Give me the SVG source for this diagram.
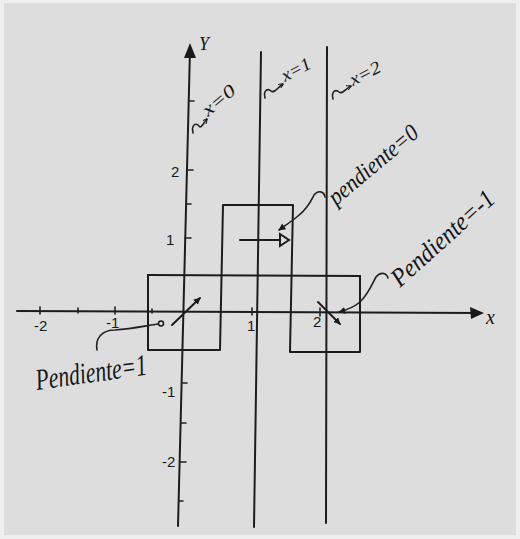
<svg xmlns="http://www.w3.org/2000/svg" width="520" height="539" viewBox="0 0 520 539">
<defs>
<style>
.ln{stroke:#1c1c1c;stroke-width:2;fill:none;stroke-linecap:round;stroke-linejoin:round}
.thin{stroke:#222;stroke-width:1.6;fill:none;stroke-linecap:round;stroke-linejoin:round}
.hw{font-family:"Liberation Serif","DejaVu Serif",serif;font-style:italic;fill:#151515}
.num{font-family:"Liberation Sans","DejaVu Sans",sans-serif;fill:#1a1a1a;font-size:15px}
</style>
<marker id="ah" viewBox="0 0 10 10" refX="9" refY="5" markerWidth="7" markerHeight="7" orient="auto" markerUnits="userSpaceOnUse">
<path d="M0,0 L10,5 L0,10 z" fill="#1a1a1a"/>
</marker>
<marker id="sah" viewBox="0 0 10 10" refX="9" refY="5" markerWidth="5" markerHeight="5" orient="auto" markerUnits="userSpaceOnUse">
<path d="M0,0 L10,5 L0,10" fill="none" stroke="#1a1a1a" stroke-width="2"/>
</marker>
</defs>
<rect x="0" y="0" width="520" height="539" fill="#efefef"/>
<rect x="4" y="3" width="512" height="532" fill="#dddddd"/>

<g id="axes">
<path class="ln" d="M17,311 L478,313"/>
<path d="M484,313 L470,307 L471,319 z" fill="#1a1a1a"/>
<path class="ln" d="M190,50 L178,526"/>
<path d="M190,43 L184,58 L196,58 z" fill="#1a1a1a"/>
<g class="thin">
<path d="M40,307 L40,314"/><path d="M78,308 L78,313"/><path d="M115,307 L115,314"/><path d="M152,309 L152,313"/>
<path d="M252,308 L252,315"/><path d="M320,308 L320,316"/>
<path d="M189,101 L194,101"/><path d="M187,170 L193,170"/><path d="M186,204 L191,204"/><path d="M185,238 L191,238"/>
<path d="M182,383 L187,383"/><path d="M181,423 L186,423"/><path d="M180,462 L186,462"/><path d="M179,501 L183,501"/>
</g>
<text class="hw" x="199" y="50" font-size="18">Y</text>
<text class="hw" x="486" y="324" font-size="20">x</text>
<text class="num" x="34" y="331">-2</text>
<text class="num" x="106" y="328">-1</text>
<text class="num" x="247" y="331">1</text>
<text class="num" x="313" y="327">2</text>
<text class="num" x="171" y="177">2</text>
<text class="num" x="166" y="245">1</text>
<text class="num" x="162" y="397">-1</text>
<text class="num" x="162" y="467">-2</text>
</g>

<g id="vertical-lines">
<path class="ln" d="M261,52 L254,527"/>
<path class="ln" d="M327,47 L326,523"/>
</g>

<g id="boxes">
<path class="ln" d="M148,275 L360,276"/>
<path class="ln" d="M148,275 L148,350 L220,350 L223,205 L293,205 L290,352 L360,352 L360,276"/>
</g>

<g id="slope-arrows">
<path class="ln" d="M172,325 L200,298" marker-end="url(#ah)"/>
<path class="ln" d="M240,240 L280,240"/>
<path d="M280,234 L289,240 L280,246 z" fill="none" stroke="#1a1a1a" stroke-width="2"/>
<path class="ln" d="M318,302 L340,324" marker-end="url(#ah)"/>
</g>

<g id="labels-lines">
<path class="thin" d="M193,133 C191,125 196,122 199,126 C201,129 203,124 207,119" marker-end="url(#sah)"/>
<text class="hw" font-size="18" textLength="38" lengthAdjust="spacingAndGlyphs" transform="translate(208,117) rotate(-40)">x=0</text>
<path class="thin" d="M265,98 C263,90 268,88 271,91 C274,94 277,88 283,84" marker-end="url(#sah)"/>
<text class="hw" font-size="18" textLength="31" lengthAdjust="spacingAndGlyphs" transform="translate(285,82) rotate(-28)">x=1</text>
<path class="thin" d="M333,99 C331,91 336,89 339,92 C342,95 345,89 351,86" marker-end="url(#sah)"/>
<text class="hw" font-size="18" textLength="33" lengthAdjust="spacingAndGlyphs" transform="translate(353,86) rotate(-27)">x=2</text>
</g>

<g id="slope-labels">
<path class="thin" d="M97,350 C95,338 102,330 115,330 C130,329 145,326 158,324"/>
<circle cx="161" cy="323.5" r="2.5" fill="none" stroke="#1a1a1a" stroke-width="1.5"/>
<text class="hw" font-size="30" textLength="112" lengthAdjust="spacingAndGlyphs" transform="translate(37,390) rotate(-8)">Pendiente=1</text>

<path class="thin" d="M325,197 C324,191 318,190 314,195 C311,201 308,208 298,216 C292,221 286,225 279,230" marker-end="url(#ah)"/>
<text class="hw" font-size="24" textLength="110" lengthAdjust="spacingAndGlyphs" transform="translate(336,206) rotate(-40)">pendiente=0</text>

<path class="thin" d="M388,278 C386,272 380,272 376,277 C372,284 369,293 360,302 C354,307 347,310 339,312" marker-end="url(#ah)"/>
<text class="hw" font-size="26" textLength="130" lengthAdjust="spacingAndGlyphs" transform="translate(400,288) rotate(-42)">Pendiente=-1</text>
</g>
</svg>
